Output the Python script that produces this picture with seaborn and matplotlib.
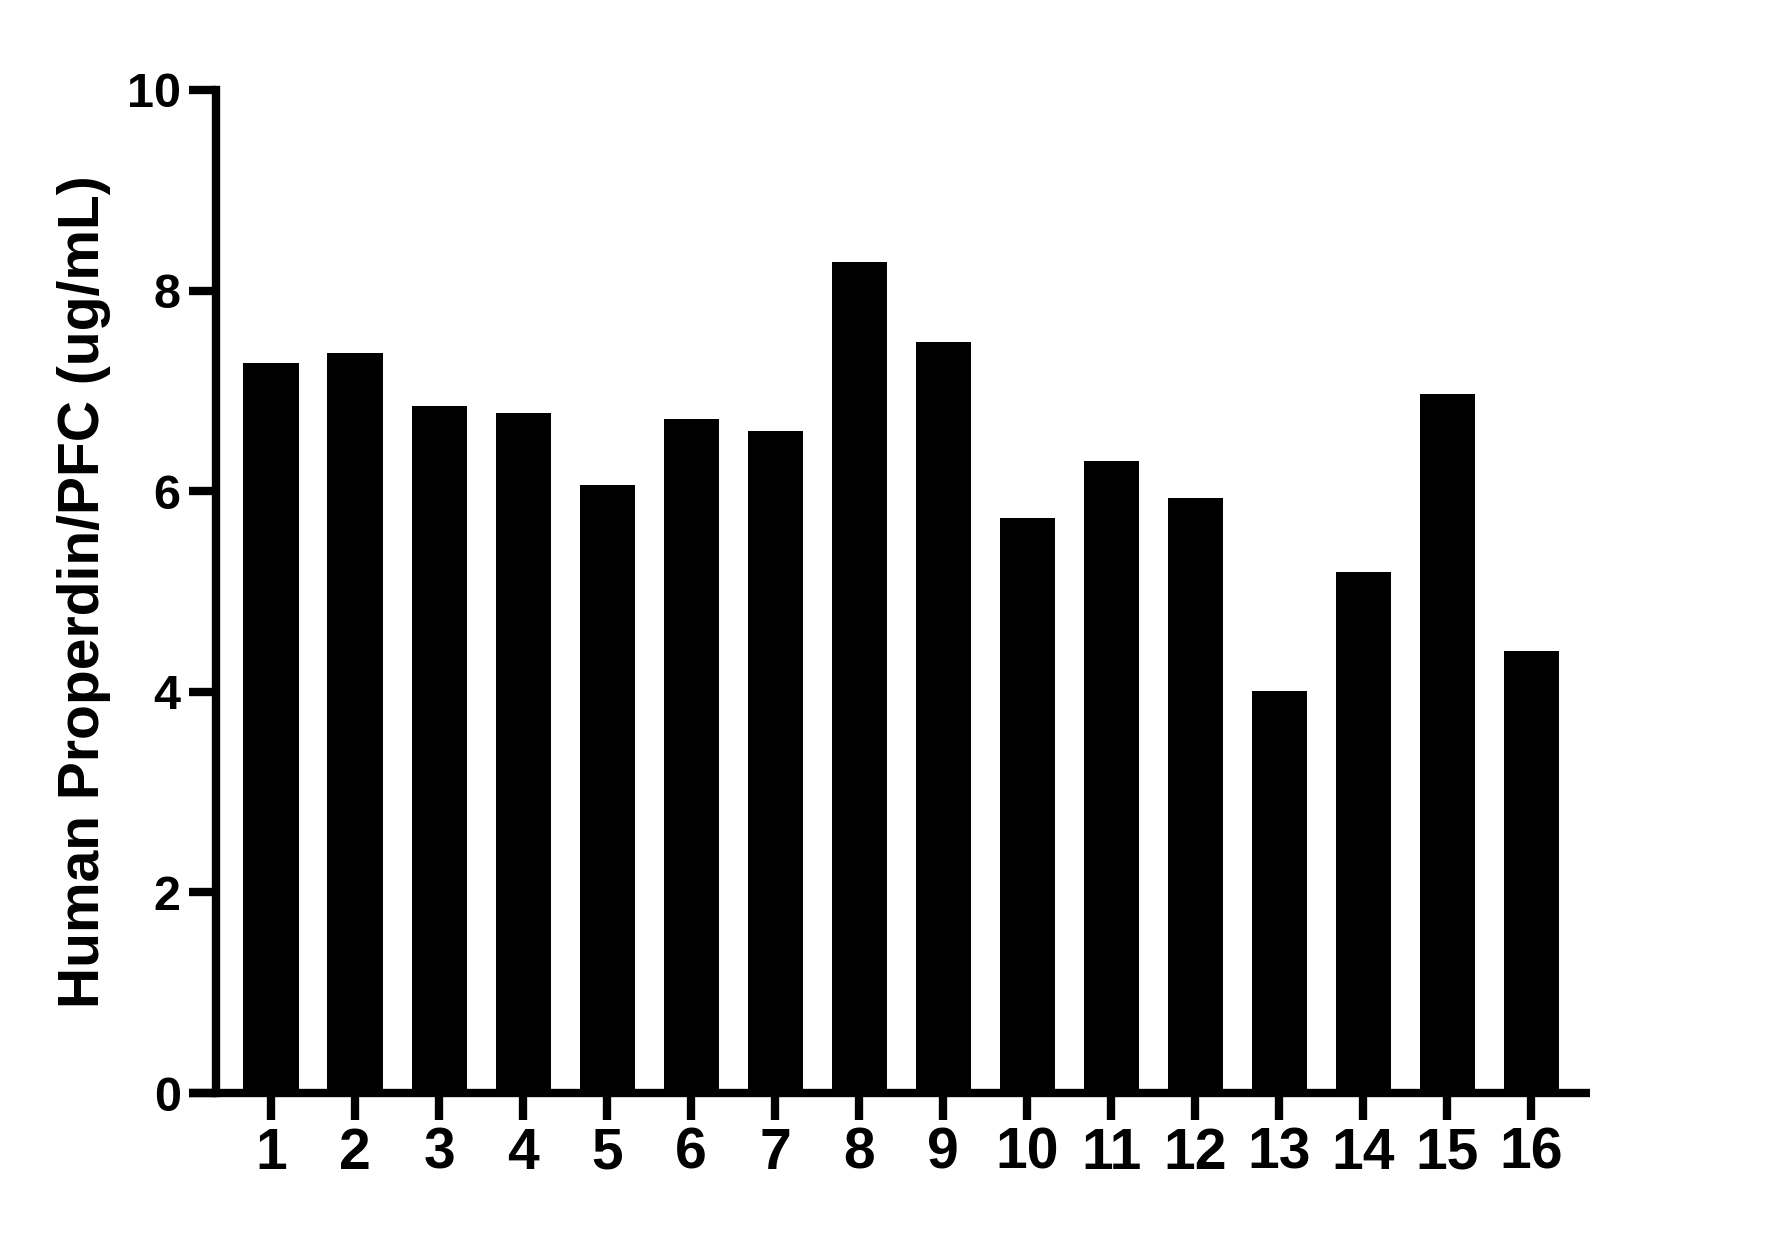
import numpy as np
import pandas as pd
import matplotlib
matplotlib.use("Agg")
import matplotlib.pyplot as plt
import seaborn as sns

samples = [str(i) for i in range(1, 17)]
propredin = [7.28, 7.38, 6.85, 6.78, 6.06, 6.72, 6.60, 8.29,
             7.49, 5.73, 6.30, 5.93, 4.01, 5.19, 6.97, 4.41]
yticks = [0, 2, 4, 6, 8, 10]
ylabel = "Human Properdin/PFC (ug/mL)"

sns.set_style("white")
plt.rcParams['font.family'] = ['Liberation Sans', 'DejaVu Sans']
plt.rcParams['font.weight'] = 'bold'
plt.rcParams['text.color'] = 'black'
plt.rcParams['xtick.color'] = 'black'
plt.rcParams['ytick.color'] = 'black'
plt.rcParams['axes.labelcolor'] = 'black'

df = pd.DataFrame({"sample": samples, "value": propredin})

fig = plt.figure(figsize=(17.67, 12.33), dpi=100)
ax = fig.add_axes([0.10696, 0.11354, 0.79287, 0.81347])

sns.barplot(data=df, x="sample", y="value", color="black", saturation=1,
            width=0.655, edgecolor="none", linewidth=0, ax=ax)

# prism-like axes
ax.set_xlim(-0.976, 15.70)
ax.set_ylim(0, 10)
ax.set_yticks(yticks)
ax.spines['top'].set_visible(False)
ax.spines['right'].set_visible(False)
ax.spines['left'].set_position(('data', -0.655))
ax.spines['left'].set_bounds(0, 10)
for s in ['left', 'bottom']:
    ax.spines[s].set_linewidth(6)
    ax.spines[s].set_color('black')
    ax.spines[s].set_capstyle('projecting')
ax.spines['bottom'].set_capstyle('butt')

ax.tick_params(axis='both', which='major', length=19.4, width=6, color='black',
               labelcolor='black', direction='out', left=True, bottom=True)
ax.tick_params(axis='x', labelsize=41, pad=5)
ax.tick_params(axis='y', labelsize=35, pad=6)
for lab in ax.get_xticklabels() + ax.get_yticklabels():
    lab.set_fontweight('bold')

ax.set_xlabel("")
ax.set_ylabel(ylabel, fontsize=41, fontweight='bold', color='black')
ax.yaxis.set_label_coords(-0.056, 0.5)
ax.grid(False)

fig.savefig("out.png", dpi=100, facecolor="white")
